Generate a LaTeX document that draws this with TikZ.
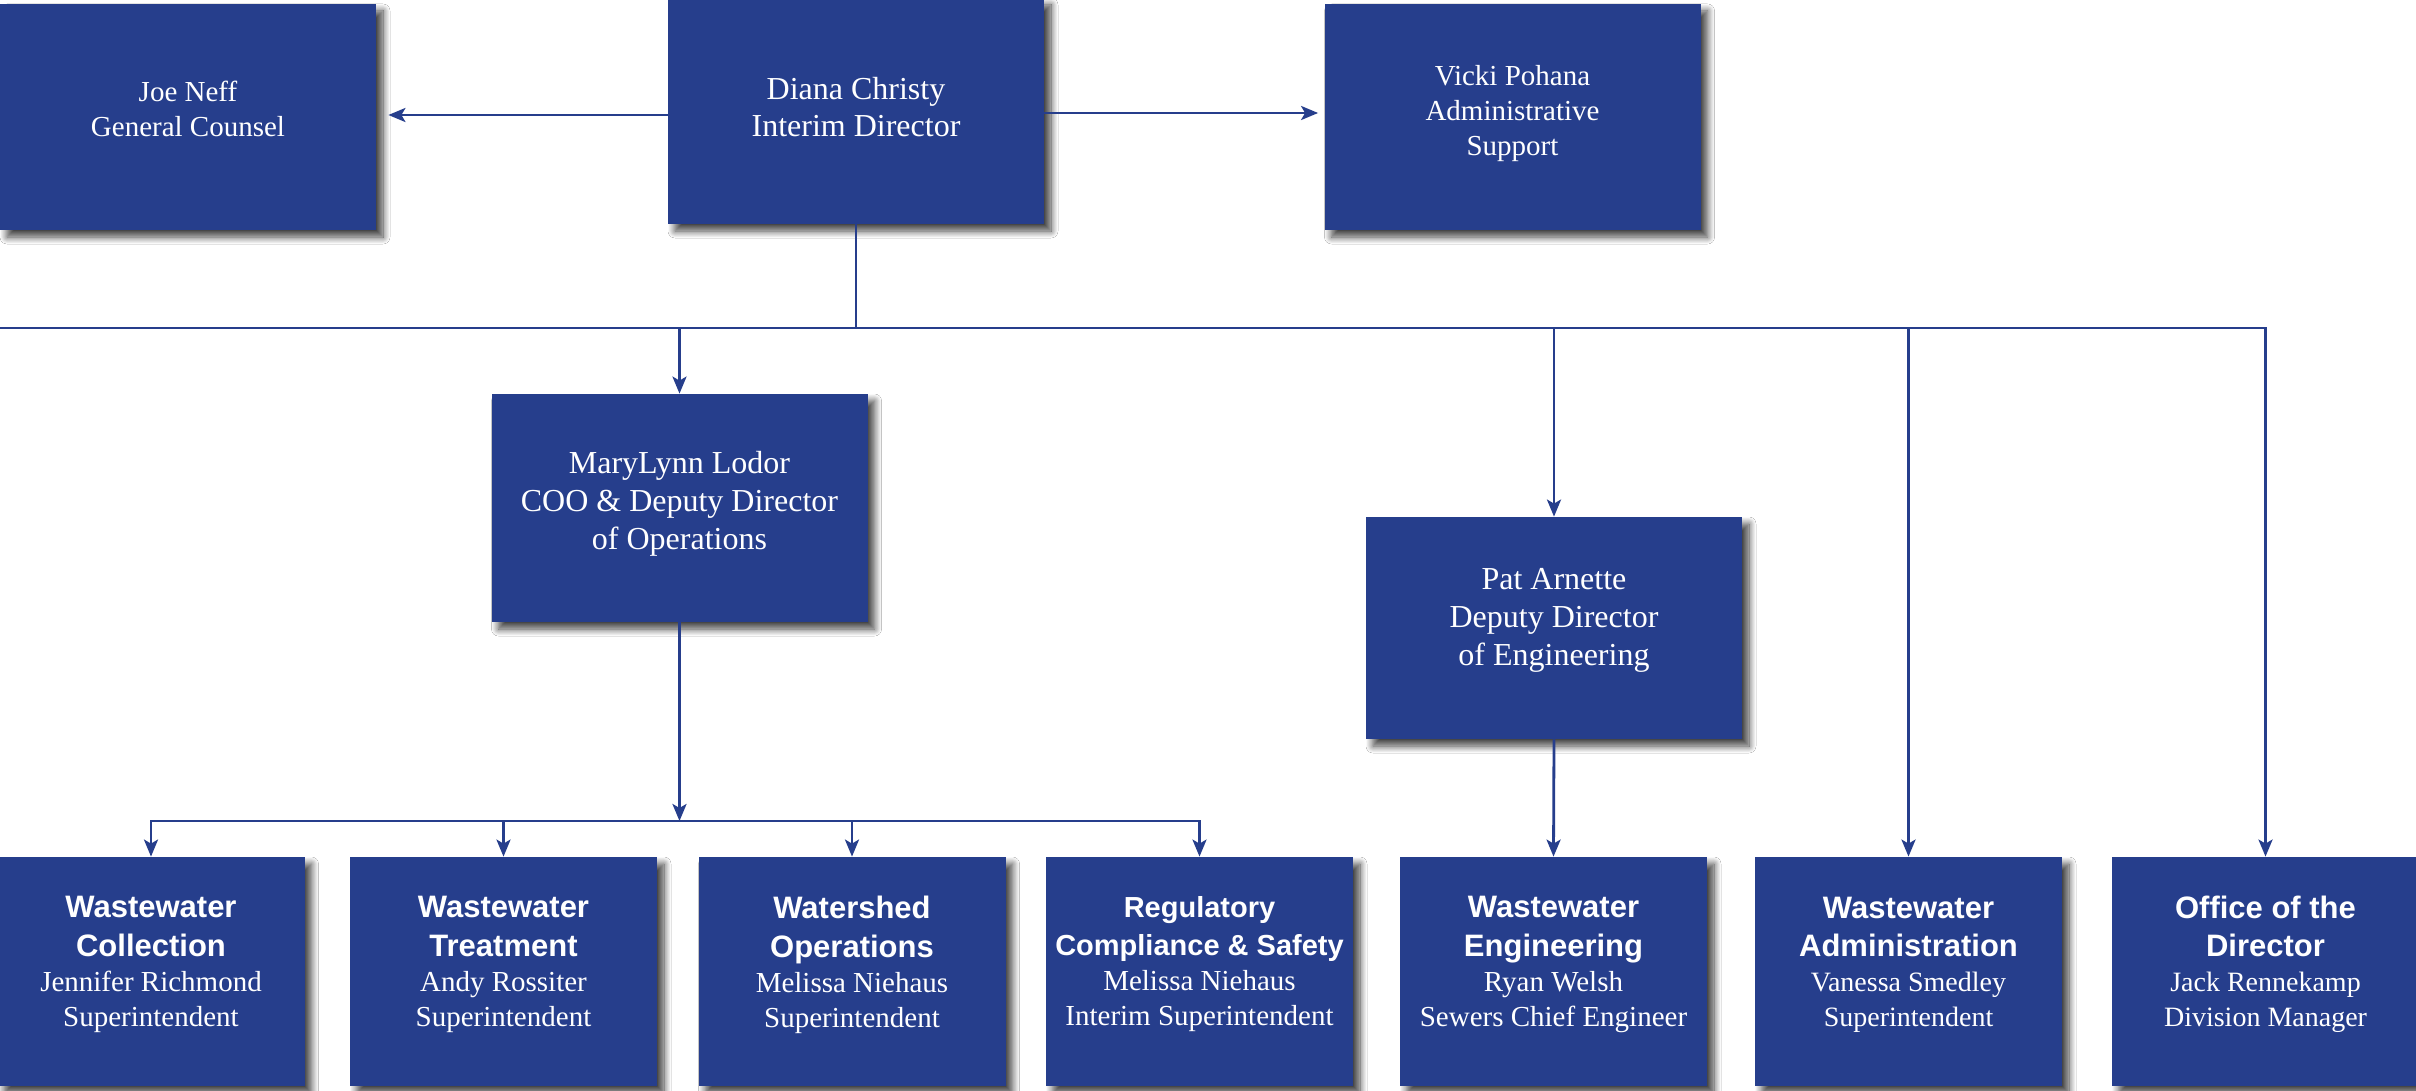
\documentclass[tikz,border=0pt]{standalone}
\usepackage{fontspec}
\setmainfont{Liberation Serif}
\newfontfamily\titlefont{Liberation Sans}
\usetikzlibrary{arrows.meta,shadows.blur}
\definecolor{boxblue}{RGB}{38,62,140}
\newcommand\fTop{\rmfamily\fontsize{14.5}{17.5}\selectfont}
\newcommand\fDiana{\rmfamily\fontsize{16}{18.5}\selectfont}
\newcommand\fMid{\rmfamily\fontsize{16}{19}\selectfont}
\newcommand\orgtitle{\titlefont\bfseries\fontsize{15.5}{17.5}\selectfont}
\newcommand\orgtitleS{\titlefont\bfseries\fontsize{14.5}{17.5}\selectfont}
\newcommand\orgname{\rmfamily\mdseries\fontsize{14.5}{17.5}\selectfont}
\newcommand\orgtitleW{\titlefont\bfseries\fontsize{15.5}{17.5}\selectfont}
\newcommand\orgnameW{\rmfamily\mdseries\fontsize{14}{17.5}\selectfont}
\begin{document}
\begin{tikzpicture}[x=0.5pt,y=-0.5pt,
  orgbox/.style={fill=boxblue, draw=none, inner sep=0pt,
    blur shadow={shadow xshift=3.5pt, shadow yshift=-3.5pt, shadow blur radius=3.5pt, shadow blur steps=12, shadow opacity=75}},
  topbox/.style={orgbox, minimum width=188pt, minimum height=113pt},
  midbox/.style={orgbox, minimum width=188pt, minimum height=112pt},
  botbox/.style={orgbox, minimum width=153.5pt, minimum height=114.5pt},
  txt/.style={text=white, align=center, inner sep=0pt},
  conn/.style={draw=boxblue, line width=1.4pt},
  arr/.style={-{Stealth[length=8.5pt,width=7pt,inset=2pt]}}
]
\useasboundingbox (0,0) rectangle (2416,1091);
\fill[white] (0,0) rectangle (2416,1091);

% top row
\node[topbox] (joe) at (188,117) {};
\node[topbox] (diana) at (856,111) {};
\node[topbox] (vicki) at (1512.5,117) {};
% middle
\node[midbox, minimum height=114pt] (mary) at (679.5,508) {};
\node[midbox, minimum height=111pt] (pat) at (1554,628) {};
% bottom
\node[botbox] (b1) at (151,971.5) {};
\node[botbox] (b2) at (503.5,971.5) {};
\node[botbox] (b3) at (852,971.5) {};
\node[botbox] (b4) at (1199.5,971.5) {};
\node[botbox] (b5) at (1553.5,971.5) {};
\node[botbox] (b6) at (1908.5,971.5) {};
\node[botbox] (b7) at (2265.5,971.5) {};

% texts
\node[txt, font=\fTop, yshift=4pt] (joeT) at (joe) {Joe Neff\\ General Counsel};
\node[txt, font=\fDiana, yshift=2pt] (dianaT) at (diana) {Diana Christy\\ Interim Director};
\node[txt, font=\fTop, yshift=1.75pt] (vickiT) at (vicki) {Vicki Pohana\\ Administrative\\ Support};
\node[txt, font=\fMid, yshift=2.25pt] (maryT) at (mary) {MaryLynn Lodor\\ COO \& Deputy Director\\ of Operations};
\node[txt, font=\fMid, yshift=4pt] (patT) at (pat) {Pat Arnette\\ Deputy Director\\ of Engineering};

\node[txt, font=\orgname, yshift=3.5pt] (b1T) at (b1) {\orgtitle Wastewater\\[2pt] \orgtitle Collection\\ Jennifer Richmond\\ Superintendent};
\node[txt, font=\orgname, yshift=3.5pt] (b2T) at (b2) {\orgtitle Wastewater\\[2pt] \orgtitle Treatment\\ Andy Rossiter\\ Superintendent};
\node[txt, font=\orgname, yshift=3.5pt] (b3T) at (b3) {\orgtitle Watershed\\[2pt] \orgtitle Operations\\ Melissa Niehaus\\ Superintendent};
\node[txt, font=\orgname, yshift=3.5pt] (b4T) at (b4) {\orgtitleS Regulatory\\[1.5pt] \orgtitleS Compliance \& Safety\\ Melissa Niehaus\\ Interim Superintendent};
\node[txt, font=\orgname, yshift=3.5pt] (b5T) at (b5) {\orgtitle Wastewater\\[2pt] \orgtitle Engineering\\ Ryan Welsh\\ Sewers Chief Engineer};
\node[txt, font=\orgnameW, yshift=3.5pt] (b6T) at (b6) {\orgtitleW Wastewater\\[1.5pt] \orgtitleW Administration\\ Vanessa Smedley\\ Superintendent};
\node[txt, font=\orgnameW, yshift=3.5pt] (b7T) at (b7) {\orgtitleW Office of the\\[1.5pt] \orgtitleW Director\\ Jack Rennekamp\\ Division Manager};

% helper coordinates
\coordinate (jy) at (0,115);
\coordinate (vy) at (0,113);
\coordinate (busL) at (-5,328);
\coordinate (br) at (0,821);

% connectors
\draw[conn, arr, shorten >=6pt] (diana.west |- jy) -- (joe.east |- jy);
\draw[conn, arr, shorten >=3pt] (diana.east |- vy) -- (vicki.west |- vy);
\draw[conn] (diana.south) -- (diana.south |- busL);
\draw[conn, arr] (busL) -- (b7.north |- busL) -- (b7.north);
\draw[conn, arr] (mary.north |- busL) -- (mary.north);
\draw[conn, arr] (pat.north |- busL) -- (pat.north);
\draw[conn, arr] (b6.north |- busL) -- (b6.north);

\draw[conn, arr] (mary.south) -- (mary.south |- br);
\draw[conn, arr] (mary.south |- br) -- (b1.north |- br) -- (b1.north);
\draw[conn, arr] (mary.south |- br) -- (b4.north |- br) -- (b4.north);
\draw[conn, arr] (b2.north |- br) -- (b2.north);
\draw[conn, arr] (b3.north |- br) -- (b3.north);

\draw[conn, arr] (pat.south) -- (b5.north);
\end{tikzpicture}
\end{document}
